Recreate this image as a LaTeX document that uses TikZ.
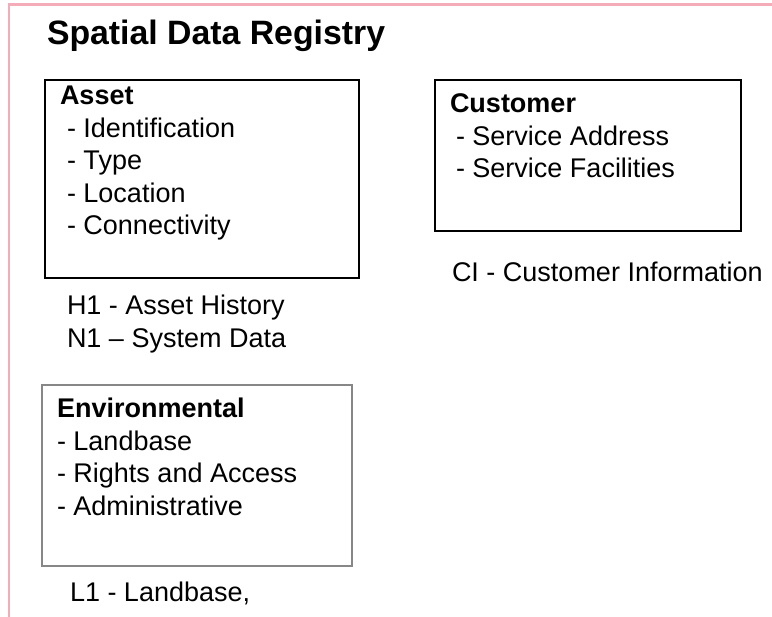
\documentclass[tikz,border=0pt]{standalone}
\usepackage{fontspec}
\setmainfont{Liberation Sans}
\usepackage{xcolor}
\usepackage{tikz}
\definecolor{framepink}{RGB}{244,172,184}
\definecolor{thinboxgray}{RGB}{135,135,135}

\begin{document}
\begin{tikzpicture}[x=1pt, y=-1pt]
\def\textfontsize{\fontsize{27}{32}\selectfont}
\def\titlefontsize{\fontsize{33.8}{40}\selectfont}
\tikzset{lbl/.style={anchor=base west, inner sep=0pt, outer sep=0pt}}
\useasboundingbox[fill=white] (0,0) rectangle (772,617);

% PAGE FRAME
\draw[framepink, line width=2.5pt] (9,617) -- (9,4.5) -- (772,4.5);

\node [lbl] (title) at (47, 45) {\titlefontsize\bfseries Spatial Data Registry};

\begin{scope}[shift={(0, 0)}] % ASSET BOX
\draw[line width=2.9pt] (45,80) rectangle (359,278);
\node [lbl] (asset) at (60, 105) {\textfontsize\bfseries Asset};
\node [lbl] (assetA) at (67, 138) {\textfontsize - Identification};
\node [lbl] (assetB) at (67, 170) {\textfontsize - Type};
\node [lbl] (assetC) at (67, 203) {\textfontsize - Location};
\node [lbl] (assetD) at (67, 235) {\textfontsize - Connectivity};

\node [lbl] (hist) at (67, 315) {\textfontsize H1 - Asset History};
\node [lbl] (sys) at (67, 348) {\textfontsize N1 -- System Data};
\end{scope}

\begin{scope}[shift={(0, 0)}] % CUSTOMER BOX
\draw[line width=2.9pt] (435,80) rectangle (741,231);
\node [lbl] (cust) at (450, 113) {\textfontsize\bfseries Customer};
\node [lbl] (custA) at (456, 146) {\textfontsize - Service Address};
\node [lbl] (custB) at (456, 178) {\textfontsize - Service Facilities};

\node [lbl] (custinfo) at (452, 282) {\textfontsize CI - Customer Information};
\end{scope}

\begin{scope}[shift={(0, 0)}] % ENVIRONMENTAL BOX
\draw[thinboxgray, line width=1.4pt] (42,385) rectangle (352,566);
\node [lbl] (env) at (57, 418) {\textfontsize\bfseries Environmental};
\node [lbl] (envA) at (57, 451) {\textfontsize - Landbase};
\node [lbl] (envB) at (57, 483) {\textfontsize - Rights and Access};
\node [lbl] (envC) at (57, 516) {\textfontsize - Administrative};

\node [lbl] (land) at (70, 602) {\textfontsize L1 - Landbase,};
\end{scope}
\end{tikzpicture}
\end{document}
